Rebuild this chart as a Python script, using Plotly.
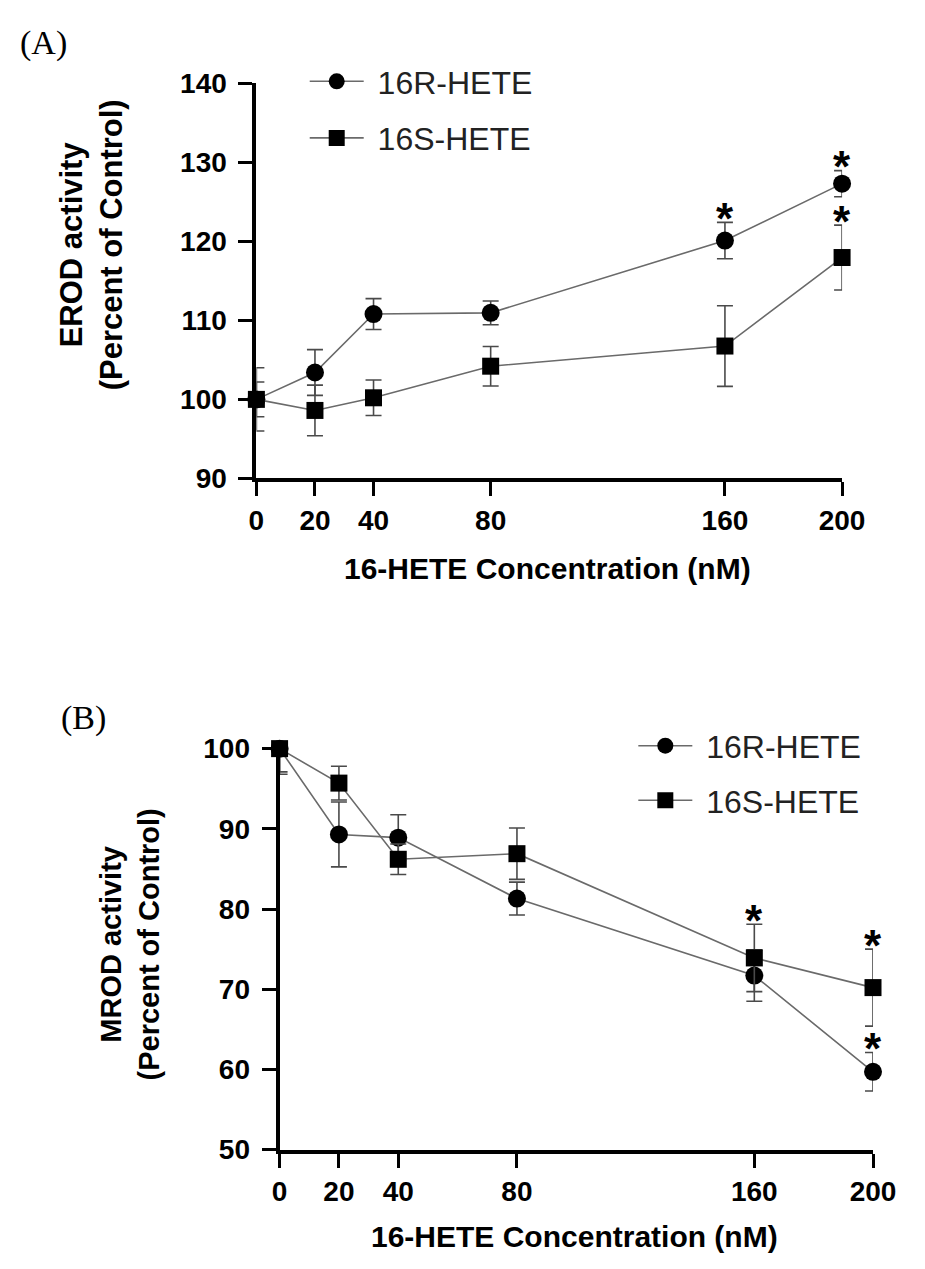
import plotly.graph_objects as go

# ---------------- data ----------------
conc = [0, 20, 40, 80, 160, 200]
conc_labels = ["0", "20", "40", "80", "160", "200"]

# Panel A: EROD activity (% of control)
erod_r_mean = [100.0, 103.4, 110.8, 110.95, 120.1, 127.3]
erod_r_err = [2.2, 2.9, 1.95, 1.5, 2.3, 1.65]
erod_s_mean = [100.0, 98.6, 100.2, 104.2, 106.75, 117.95]
erod_s_err = [4.0, 3.2, 2.25, 2.5, 5.1, 4.1]
erod_r_sig = [False, False, False, False, True, True]
erod_s_sig = [False, False, False, False, False, True]
erod_yticks = [90, 100, 110, 120, 130, 140]

# Panel B: MROD activity (% of control)
mrod_r_mean = [100.0, 89.3, 88.9, 81.3, 71.7, 59.7]
mrod_r_err = [2.9, 4.05, 2.85, 2.05, 3.2, 2.4]
mrod_s_mean = [100.0, 95.7, 86.2, 86.9, 73.9, 70.2]
mrod_s_err = [3.2, 2.1, 1.9, 3.2, 4.2, 4.8]
mrod_r_sig = [False, False, False, False, False, True]
mrod_s_sig = [False, False, False, False, True, True]
mrod_yticks = [50, 60, 70, 80, 90, 100]

series_names = ["16R-HETE", "16S-HETE"]

# ---------------- style ----------------
W, H = 925, 1269
FONT = "Liberation Sans, Arial, sans-serif"
LINE_COL = "#6a6a6a"
ERR_COL = "#4a4a4a"

def px_x(p):
    return p / W

def px_y(p):
    return 1 - p / H

fig = go.Figure()

def add_series(xa, ya, means, errs, symbol, msize, ymax, name, legend):
    # error bars are clipped at the top of the axis, as in the original figure
    up = [min(e, ymax - m) for m, e in zip(means, errs)]
    fig.add_trace(go.Scatter(
        x=conc, y=means, xaxis=xa, yaxis=ya, mode="lines+markers",
        line=dict(color=LINE_COL, width=1.6),
        marker=dict(symbol=symbol, size=msize, color="black"),
        error_y=dict(type="data", symmetric=False, array=up, arrayminus=errs,
                     color=ERR_COL, thickness=1.6, width=8),
        cliponaxis=False, showlegend=False, name=name))
    fig.add_trace(go.Scatter(
        x=[None], y=[None], xaxis=xa, yaxis=ya, mode="lines+markers",
        line=dict(color=LINE_COL, width=1.6),
        marker=dict(symbol=symbol, size=msize, color="black"),
        name="\u00a0" + name, legend=legend, legendgroup=legend + name,
        showlegend=True))

add_series("x", "y", erod_r_mean, erod_r_err, "circle", 18, 140, series_names[0], "legend")
add_series("x", "y", erod_s_mean, erod_s_err, "square", 17, 140, series_names[1], "legend")
add_series("x2", "y2", mrod_r_mean, mrod_r_err, "circle", 18, 100, series_names[0], "legend2")
add_series("x2", "y2", mrod_s_mean, mrod_s_err, "square", 17, 100, series_names[1], "legend2")

annotations = []

def add_stars(xref, yref, means, errs, sig):
    for xv, m, e, s in zip(conc, means, errs, sig):
        if s:
            annotations.append(dict(
                x=xv, y=m + e, xref=xref, yref=yref, text="<b>*</b>", showarrow=False,
                xanchor="center", yanchor="middle", yshift=4,
                font=dict(family=FONT, size=44, color="black")))

add_stars("x", "y", erod_r_mean, erod_r_err, erod_r_sig)
add_stars("x", "y", erod_s_mean, erod_s_err, erod_s_sig)
add_stars("x2", "y2", mrod_r_mean, mrod_r_err, mrod_r_sig)
add_stars("x2", "y2", mrod_s_mean, mrod_s_err, mrod_s_sig)

# panel labels
annotations.append(dict(x=px_x(37), y=px_y(29), xref="paper", yref="paper",
                        text="(A)", showarrow=False, xanchor="center", yanchor="middle",
                        font=dict(family="Liberation Serif, Times New Roman, serif", size=34, color="black")))
annotations.append(dict(x=px_x(78), y=px_y(721), xref="paper", yref="paper",
                        text="(B)", showarrow=False, xanchor="center", yanchor="middle",
                        font=dict(family="Liberation Serif, Times New Roman, serif", size=34, color="black")))

# axis titles
annotations.append(dict(x=px_x(86), y=px_y(236), xref="paper", yref="paper",
                        text="<b>EROD activity<br>(Percent of Control)</b>", textangle=-90,
                        showarrow=False, xanchor="center", yanchor="middle",
                        font=dict(family=FONT, size=31, color="black")))
annotations.append(dict(x=px_x(126), y=px_y(953), xref="paper", yref="paper",
                        text="<b>MROD activity<br>(Percent of Control)</b>", textangle=-90,
                        showarrow=False, xanchor="center", yanchor="middle",
                        font=dict(family=FONT, size=29, color="black")))
annotations.append(dict(x=px_x(558.5), y=px_y(567), xref="paper", yref="paper",
                        text="<b>16-HETE Concentration (nM)</b>",
                        showarrow=False, xanchor="center", yanchor="middle",
                        font=dict(family=FONT, size=30, color="black")))
annotations.append(dict(x=px_x(586.5), y=px_y(1252), xref="paper", yref="paper",
                        text="<b>16-HETE Concentration (nM)</b>",
                        showarrow=False, xanchor="center", yanchor="middle",
                        font=dict(family=FONT, size=30, color="black")))

axis_common = dict(showline=True, linecolor="black", linewidth=4, ticks="outside",
                   ticklen=14, tickwidth=3, tickcolor="black", showgrid=False,
                   zeroline=False, fixedrange=True,
                   tickfont=dict(family=FONT, size=28, color="black", weight="bold"))

fig.update_layout(
    width=W, height=H, margin=dict(l=0, r=0, t=0, b=0),
    paper_bgcolor="white", plot_bgcolor="white",
    xaxis=dict(domain=[px_x(257), px_x(863)], range=[0, 200], anchor="y",
               tickmode="array", tickvals=conc, ticktext=conc_labels, **axis_common),
    yaxis=dict(domain=[px_y(475), px_y(70)], range=[90, 140], anchor="x",
               tickmode="array", tickvals=erod_yticks, ticklabelstandoff=6, **axis_common),
    xaxis2=dict(domain=[px_x(281), px_x(895)], range=[0, 200], anchor="y2",
                tickmode="array", tickvals=conc, ticktext=conc_labels, **axis_common),
    yaxis2=dict(domain=[px_y(1163), px_y(752)], range=[50, 100], anchor="x2",
                tickmode="array", tickvals=mrod_yticks, ticklabelstandoff=6, **axis_common),
    legend=dict(x=px_x(307), y=px_y(40), xanchor="left", yanchor="top",
                font=dict(family=FONT, size=32, color="#222222"),
                tracegroupgap=12, bgcolor="rgba(0,0,0,0)", itemwidth=54,
                traceorder="grouped"),
    legend2=dict(x=px_x(647), y=px_y(721), xanchor="left", yanchor="top",
                 font=dict(family=FONT, size=32, color="#222222"),
                 tracegroupgap=10, bgcolor="rgba(0,0,0,0)", itemwidth=54,
                 traceorder="grouped"),
    annotations=annotations,
    showlegend=True,
)

fig.write_html("out.html")
